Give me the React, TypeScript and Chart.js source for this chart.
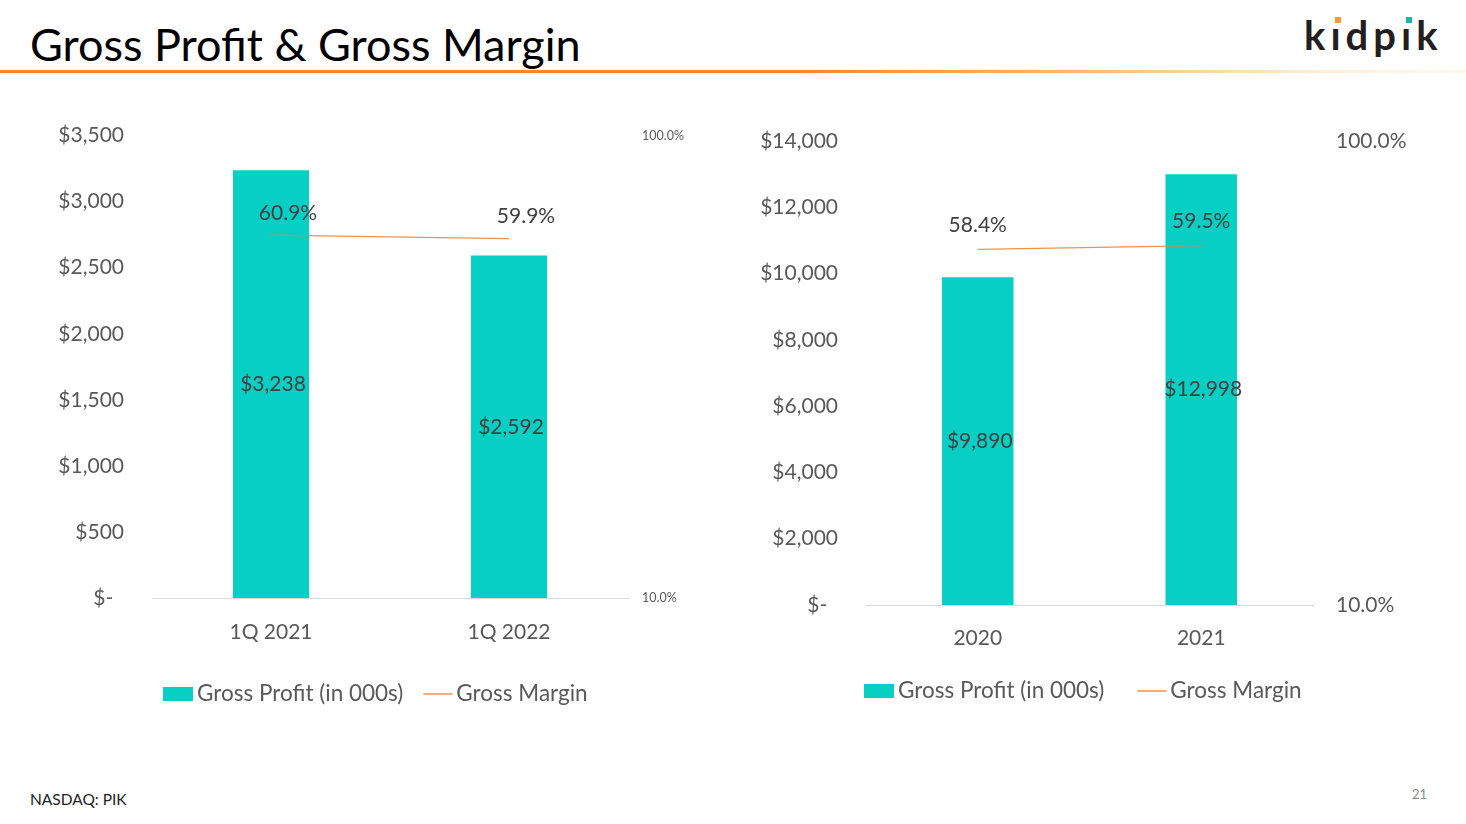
import React, { useEffect, useRef } from "react";
import { Chart, registerables } from "chart.js";

Chart.register(...registerables);

// ---------- DATA ----------
const quarterCategories = ["1Q 2021", "1Q 2022"];
const quarterGrossProfit = [3238, 2592];
const quarterGrossMargin = [0.609, 0.599];
const quarterProfitMax = 3500;
const quarterProfitStep = 500;

const yearCategories = ["2020", "2021"];
const yearGrossProfit = [9890, 12998];
const yearGrossMargin = [0.584, 0.595];
const yearProfitMax = 14000;
const yearProfitStep = 2000;

const marginTicks = [0.1, 1.0];
const seriesNames = ["Gross Profit (in 000s)", "Gross Margin"];

const TEAL = "#08CFC4";
const ORANGE = "rgba(237,125,49,0.85)";
const TEXT = "#404040";
const TICK = "#595959";
const FONT = "Lato";

type ChartProps = {
  categories: string[];
  profit: number[];
  margin: number[];
  profitMax: number;
  profitStep: number;
  left: number;
  top: number;
  width: number;
  height: number;
  pad: { left: number; right: number; top: number; bottom: number };
  yWidth: number;
  y1Width: number;
  y1Pad: number;
  y1Font: number;
  xHeight: number;
  xPad: number;
  pctDx: number;
  pctDy: number;
  legendX: number;
  legendY: number;
  legendGap: number;
};

const fmtMoney = (v: number) => (v === 0 ? "$-  " : "$" + v.toLocaleString("en-US"));
const fmtPct = (v: number) => (v * 100).toFixed(1) + "%";

function ComboChart(p: ChartProps) {
  const ref = useRef<HTMLCanvasElement | null>(null);
  useEffect(() => {
    if (!ref.current) return;
    const labelsPlugin = {
      id: "valueLabels",
      afterDatasetsDraw(chart: any) {
        const ctx = chart.ctx;
        ctx.save();
        ctx.fillStyle = TEXT;
        ctx.font = `21px ${FONT}`;
        ctx.textAlign = "center";
        ctx.textBaseline = "middle";
        chart.data.datasets.forEach((ds: any, di: number) => {
          const meta = chart.getDatasetMeta(di);
          meta.data.forEach((el: any, i: number) => {
            const v = ds.data[i];
            if (ds.type === "bar") {
              ctx.fillText(fmtMoney(v), el.x + 2, (el.y + el.base) / 2);
            } else {
              ctx.fillText(fmtPct(v), el.x + p.pctDx, el.y + p.pctDy);
            }
          });
        });
        ctx.restore();
      },
    };
    const legendPlugin = {
      id: "customLegend",
      afterDraw(chart: any) {
        const ctx = chart.ctx;
        const ds = chart.data.datasets;
        ctx.save();
        ctx.font = `22.5px ${FONT}`;
        ctx.textBaseline = "middle";
        ctx.textAlign = "left";
        let x = p.legendX;
        const y = p.legendY;
        ctx.fillStyle = ds[0].backgroundColor;
        ctx.fillRect(x, y - 7, 30, 14);
        x += 34;
        ctx.fillStyle = TICK;
        ctx.fillText(ds[0].label, x, y);
        x += ctx.measureText(ds[0].label).width + p.legendGap;
        ctx.strokeStyle = ds[1].borderColor;
        ctx.lineWidth = 1.5;
        ctx.beginPath();
        ctx.moveTo(x, y);
        ctx.lineTo(x + 29, y);
        ctx.stroke();
        x += 33;
        ctx.fillText(ds[1].label, x, y);
        ctx.restore();
      },
    };
    const chart = new Chart(ref.current, {
      type: "bar",
      data: {
        labels: p.categories,
        datasets: [
          {
            type: "bar",
            label: seriesNames[0],
            data: p.profit,
            backgroundColor: TEAL,
            borderWidth: 0,
            barPercentage: 0.32,
            categoryPercentage: 1,
            yAxisID: "y",
            order: 1,
          } as any,
          {
            type: "line",
            label: seriesNames[1],
            data: p.margin,
            borderColor: ORANGE,
            borderWidth: 1.25,
            pointRadius: 0,
            fill: false,
            yAxisID: "y1",
            order: 0,
          } as any,
        ],
      },
      options: {
        responsive: false,
        animation: false,
        layout: { padding: p.pad },
        plugins: {
          tooltip: { enabled: false },
          legend: { display: false },
        },
        scales: {
          x: {
            grid: { display: false, drawTicks: false },
            border: { display: true, color: "#D9D9D9", width: 1 },
            ticks: { font: { family: FONT, size: 21 }, color: TICK, padding: p.xPad },
            afterFit: (s: any) => {
              s.height = p.xHeight;
            },
          },
          y: {
            position: "left",
            min: 0,
            max: p.profitMax,
            grid: { display: false, drawTicks: false },
            border: { display: false },
            ticks: {
              stepSize: p.profitStep,
              font: { family: FONT, size: 21 },
              color: TICK,
              padding: 28,
              callback: (v: any) => fmtMoney(Number(v)),
            },
            afterFit: (s: any) => {
              s.width = p.yWidth;
            },
          },
          y1: {
            type: "logarithmic",
            position: "right",
            min: marginTicks[0],
            max: marginTicks[marginTicks.length - 1],
            grid: { display: false, drawTicks: false },
            border: { display: false },
            afterBuildTicks: (s: any) => {
              s.ticks = marginTicks.map((v) => ({ value: v }));
            },
            ticks: {
              font: { family: FONT, size: p.y1Font },
              color: TICK,
              padding: p.y1Pad,
              callback: (v: any) => fmtPct(Number(v)),
            },
            afterFit: (s: any) => {
              s.width = p.y1Width;
            },
          },
        },
      } as any,
      plugins: [labelsPlugin, legendPlugin],
    });
    return () => chart.destroy();
  }, []);
  return (
    <div style={{ position: "absolute", left: p.left, top: p.top, width: p.width, height: p.height }}>
      <canvas
        ref={ref}
        width={p.width}
        height={p.height}
        style={{ display: "block", width: p.width, height: p.height }}
      />
    </div>
  );
}

function Logo() {
  const letter = (ch: string, dot?: string) => (
    <span style={{ position: "relative", display: "inline-block" }}>
      {ch}
      {dot && (
        <span
          style={{
            position: "absolute",
            left: "50%",
            top: 8,
            width: 6,
            height: 6,
            marginLeft: -3,
            background: dot,
          }}
        />
      )}
    </span>
  );
  return (
    <div
      style={{
        position: "absolute",
        left: 1304,
        top: 9,
        fontFamily: FONT,
        fontWeight: 700,
        fontSize: 40,
        letterSpacing: 5,
        color: "#231F20",
        lineHeight: "52px",
      }}
    >
      {letter("k")}
      {letter("ı", "#F39A34")}
      {letter("d")}
      {letter("p")}
      {letter("ı", "#1DB5A3")}
      {letter("k")}
    </div>
  );
}

export default function App() {
  return (
    <div
      style={{
        position: "absolute",
        left: 0,
        top: 0,
        width: 1466,
        height: 824,
        background: "#fff",
        overflow: "hidden",
        fontFamily: FONT,
      }}
    >
      <div style={{ position: "absolute", left: 30, top: 16, fontSize: 45, color: "#000", lineHeight: "56px", whiteSpace: "nowrap" }}>
        Gross Profit &amp; Gross Margin
      </div>
      <div
        style={{
          position: "absolute",
          left: 0,
          top: 70,
          width: 1466,
          height: 3,
          background: "linear-gradient(90deg, #EE8A35 0%, #EE8A35 55%, #F6C98E 78%, #FCEFD6 90%, #FEF8EC 100%)",
        }}
      />
      <Logo />
      <ComboChart
        categories={quarterCategories}
        profit={quarterGrossProfit}
        margin={quarterGrossMargin}
        profitMax={quarterProfitMax}
        profitStep={quarterProfitStep}
        left={0}
        top={95}
        width={720}
        height={630}
        pad={{ left: 22, right: 12, top: 40, bottom: 67 }}
        yWidth={130}
        y1Width={80}
        y1Pad={14}
        y1Font={12.5}
        xHeight={60}
        xPad={22}
        pctDx={17}
        pctDy={-22}
        legendX={163}
        legendY={599}
        legendGap={20}
      />
      <ComboChart
        categories={yearCategories}
        profit={yearGrossProfit}
        margin={yearGrossMargin}
        profitMax={yearProfitMax}
        profitStep={yearProfitStep}
        left={730}
        top={100}
        width={736}
        height={630}
        pad={{ left: 26, right: 33, top: 41, bottom: 65 }}
        yWidth={110}
        y1Width={120}
        y1Pad={23}
        y1Font={21}
        xHeight={60}
        xPad={21}
        pctDx={0}
        pctDy={-24}
        legendX={134}
        legendY={591}
        legendGap={33}
      />
      <div style={{ position: "absolute", left: 30, top: 790, fontSize: 15.5, color: "#222" }}>NASDAQ: PIK</div>
      <div style={{ position: "absolute", left: 1412, top: 786, fontSize: 13, color: "#888" }}>21</div>
    </div>
  );
}
